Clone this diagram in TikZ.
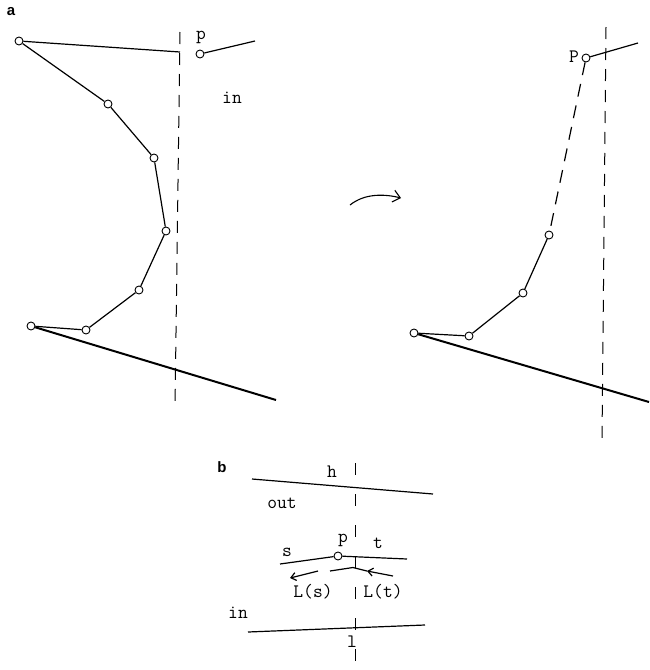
\documentclass[tikz,border=0pt]{standalone}
\usepackage{fontspec}
\setsansfont{Liberation Sans}
\usetikzlibrary{arrows.meta}
\begin{document}
\begin{tikzpicture}[x=1pt,y=-1pt,
  circ/.style={circle,draw,line width=0.9pt,inner sep=0pt,minimum size=8pt},
  thin line/.style={line width=1.2pt},
  thick line/.style={line width=2pt},
  axis/.style={line width=1pt,dash pattern=on 12pt off 9pt},
  lbl/.style={font=\ttfamily\fontsize{19}{19}\selectfont,inner sep=0pt},
  panel/.style={font=\sffamily\bfseries\fontsize{15}{15}\selectfont,inner sep=0pt}]
\useasboundingbox (0,0) rectangle (649,670);

% ---------- panel a, left ----------
\node[panel] (la) at (11,12) {a};
\node[circ] (c1) at (19,41) {};
\node[circ] (p1) at (200,54) {};
\node[circ] (c2) at (108,104) {};
\node[circ] (c3) at (154,158) {};
\node[circ] (c4) at (166,231) {};
\node[circ] (c5) at (139,290) {};
\node[circ] (c6) at (86,330) {};
\node[circ] (c7) at (31,326) {};
\node[lbl] (lp1) at (201,37) {p};
\node[lbl] (lin1) at (232,98) {in};
\coordinate (ca) at (180,52);
\coordinate (cb) at (255,41);
\coordinate (cc) at (276,400);
\coordinate (ax1) at (180,32);
\coordinate (ax2) at (175,408);
\draw[axis] (ax1) -- (ax2);
\draw[thin line] (c1) -- (ca);
\draw[thin line] (p1) -- (cb);
\draw[thin line] (c1) -- (c2) -- (c3) -- (c4) -- (c5) -- (c6) -- (c7);
\draw[thick line] (c7) -- (cc);

% ---------- arrow ----------
\coordinate (ar1) at (350,205);
\coordinate (ar2) at (401,198);
\draw[line width=1.1pt,-{Straight Barb[length=7pt,width=12pt]}] (ar1) .. controls (365,193) and (385,194) .. (ar2);

% ---------- panel a, right ----------
\node[circ] (p2) at (586,58) {};
\node[lbl,anchor=east] (lp2) at (579,57) {P};
\node[circ] (d1) at (549,235) {};
\node[circ] (d2) at (523,293) {};
\node[circ] (d3) at (469,336) {};
\node[circ] (d4) at (414,333) {};
\coordinate (da) at (638,43);
\coordinate (db) at (649,402);
\coordinate (ax3) at (606,27);
\coordinate (ax4) at (602,440);
\draw[axis] (ax3) -- (ax4);
\draw[thin line] (p2) -- (da);
\draw[thin line,dash pattern=on 13pt off 9pt] (p2) -- (d1);
\draw[thin line] (d1) -- (d2) -- (d3) -- (d4);
\draw[thick line] (d4) -- (db);

% ---------- panel b ----------
\node[panel] (lb) at (222,467) {b};
\coordinate (h1) at (252,479);
\coordinate (h2) at (433,494);
\draw[thin line] (h1) -- (h2);
\node[lbl] (lh) at (332,472) {h};
\coordinate (ax5) at (355,463);
\coordinate (ax6) at (355,662);
\draw[line width=1pt,dash pattern=on 12pt off 19pt] (ax5) -- (ax6);
\node[lbl] (lout) at (282,503) {out};
\node[circ] (q) at (338,556) {};
\node[lbl] (lp) at (343,540) {p};
\node[lbl] (lt) at (378,543) {t};
\node[lbl] (ls) at (287,552) {s};
\coordinate (s1) at (280,564);
\coordinate (t1) at (407,559);
\draw[thin line] (s1) -- (q);
\draw[thin line] (q) -- (t1);
% L arrows
\coordinate (la1) at (318,571);
\coordinate (la2) at (290,578);
\draw[thin line,-{Straight Barb[length=5pt,width=8pt]}] (la1) -- (la2);
\coordinate (lt1) at (393,576);
\coordinate (lt2) at (367,571);
\coordinate (lt3) at (353,567.5);
\coordinate (lt4) at (330,571);
\draw[thin line,-{Straight Barb[length=5pt,width=8pt]}] (lt1) -- (lt2);
\draw[thin line] (lt2) -- (lt3) -- (lt4);
\node[lbl] (lls) at (313,592) {L(s)};
\node[lbl] (llt) at (383,592) {L(t)};
\node[lbl] (lin2) at (238,613) {in};
\coordinate (l1) at (248,632);
\coordinate (l2) at (425,625);
\draw[thin line] (l1) -- (l2);
\node[lbl] (ll) at (352,642) {l};
\end{tikzpicture}
\end{document}
